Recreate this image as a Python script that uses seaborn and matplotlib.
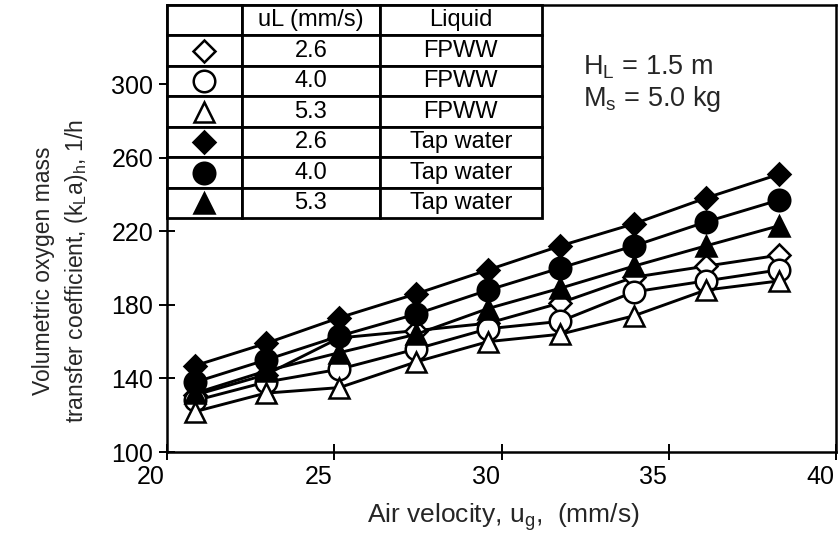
import matplotlib
matplotlib.use("Agg")
import matplotlib.pyplot as plt
import matplotlib.transforms as mtrans
import seaborn as sns
import pandas as pd

# ---- data ----
air_velocity = [20.85, 22.95, 25.15, 27.45, 29.6, 31.75, 33.95, 36.1, 38.3]
tw_26 = [147, 159, 173, 186, 199, 212, 224, 238, 251]
tw_40 = [138, 150, 163, 175, 188, 200, 212, 225, 237]
tw_53 = [132, 144, 154, 164, 178, 189, 201, 212, 223]
fp_26 = [131, 142, 162, 166, 170, 181, 195, 201, 207]
fp_40 = [128, 138, 145, 156, 167, 171, 187, 193, 199]
fp_53 = [122, 132, 135, 149, 160, 164, 174, 188, 193]

ul_labels = ["2.6", "4.0", "5.3", "2.6", "4.0", "5.3"]
liquid_labels = ["FPWW", "FPWW", "FPWW", "Tap water", "Tap water", "Tap water"]
x_ticks = [20, 25, 30, 35, 40]
y_ticks = [100, 140, 180, 220, 260, 300]

sns.set_style("ticks")
plt.rcParams['font.family'] = ['Liberation Sans', 'DejaVu Sans']
plt.rcParams['mathtext.fontset'] = 'custom'
plt.rcParams['mathtext.rm'] = 'Liberation Sans'

fig = plt.figure(figsize=(8.38, 5.47), dpi=100)
ax = fig.add_axes([167/838, 1 - 452/547, (836-167)/838, (452-5)/547])

# series: (values, marker, filled, size, zorder)
series = [
    (fp_26, 'D', False, 11.5, 2),
    (fp_40, 'o', False, 15.5, 2),
    (fp_53, '^', False, 14.5, 2),
    (tw_26, 'D', True, 11.5, 3),
    (tw_40, 'o', True, 15.5, 3),
    (tw_53, '^', True, 14.5, 3),
]

for vals, mk, filled, ms, zo in series:
    df = pd.DataFrame({"x": air_velocity, "y": vals})
    sns.lineplot(data=df, x="x", y="y", ax=ax, color="black", linewidth=2.1,
                 marker=mk, markersize=ms,
                 markerfacecolor=("black" if filled else "white"),
                 markeredgecolor="black", markeredgewidth=1.8,
                 legend=False, zorder=zo)

ax.set_xlim(20, 40)
ax.set_ylim(100, 343)
ax.set_xticks(x_ticks)
ax.set_yticks(y_ticks)
ax.tick_params(direction='inout', length=12, width=1.4, labelsize=18,
               color='black', labelcolor='black')
ax.tick_params(axis='x', pad=3)
ax.tick_params(axis='y', pad=4)
for sp in ax.spines.values():
    sp.set_visible(True)
    sp.set_linewidth(1.8)
    sp.set_color('black')

offset = mtrans.ScaledTranslation(-16/100, 0, fig.dpi_scale_trans)
for lab in ax.get_xticklabels():
    lab.set_transform(lab.get_transform() + offset)

ax.set_xlabel(r"Air velocity, u$_\mathregular{g}$,  (mm/s)", fontsize=19)
ax.xaxis.set_label_coords(0.502, -0.11)
ax.set_ylabel("Volumetric oxygen mass\n" +
              r"transfer coefficient, (k$_\mathregular{L}$a)$_\mathregular{h}$, 1/h",
              fontsize=16.5, linespacing=1.4)
ax.yaxis.set_label_coords(-0.115, 0.405)

# annotation
ax.text(0.622, 0.86, r"H$_\mathregular{L}$ = 1.5 m", transform=ax.transAxes,
        fontsize=19.5, va='center', ha='left')
ax.text(0.622, 0.79, r"M$_\mathregular{s}$ = 5.0 kg", transform=ax.transAxes,
        fontsize=19.5, va='center', ha='left')

# legend table
cell_text = [["", u, l] for u, l in zip(ul_labels, liquid_labels)]
tab_h = 0.477
tbl = ax.table(cellText=cell_text, colLabels=["", "uL (mm/s)", "Liquid"],
               cellLoc='center', colWidths=[0.112, 0.206, 0.242],
               bbox=[0, 1 - tab_h, 0.56, tab_h], zorder=4)
tbl.auto_set_font_size(False)
tbl.set_fontsize(17)
for (r, c), cell in tbl.get_celld().items():
    cell.set_linewidth(2.0)
    cell.set_edgecolor('black')
    cell.set_facecolor('white')
    cell.get_text().set_color('black')

legend_markers = [('D', False, 11.5), ('o', False, 15.5), ('^', False, 14.5),
                  ('D', True, 11.5), ('o', True, 15.5), ('^', True, 14.5)]
for i, (mk, filled, ms) in enumerate(legend_markers):
    yc = 1 - tab_h * (i + 1.5) / 7
    ax.plot([0.056], [yc], marker=mk, markersize=ms, linestyle='none',
            markerfacecolor=("black" if filled else "white"),
            markeredgecolor='black', markeredgewidth=1.8,
            transform=ax.transAxes, zorder=6, clip_on=False)

fig.savefig("out.png", dpi=100)
